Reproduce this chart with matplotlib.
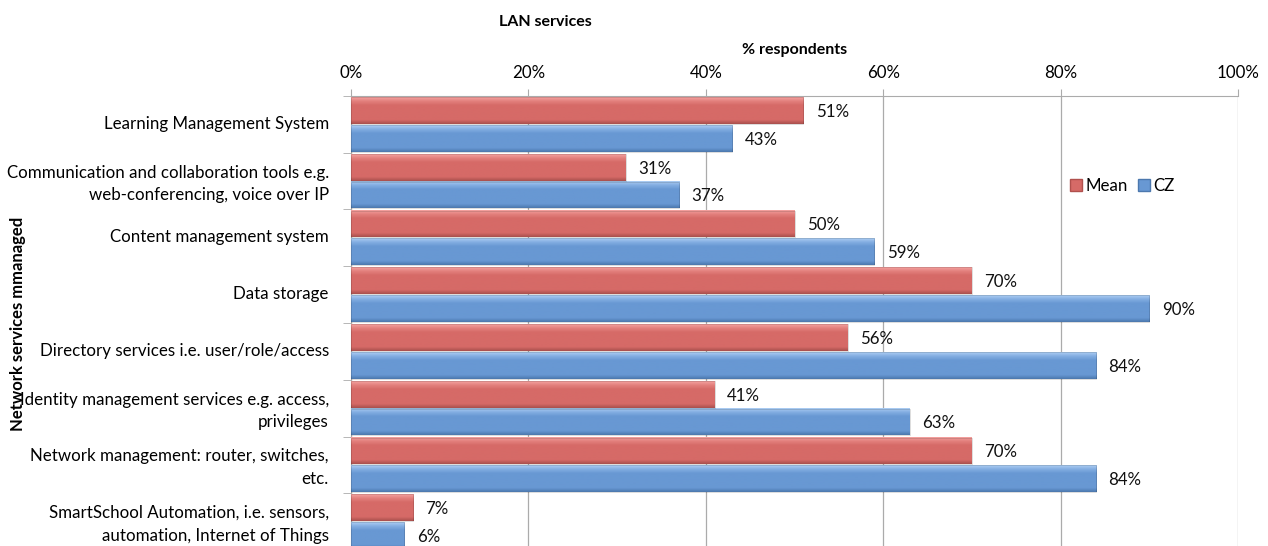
import matplotlib

matplotlib.use("Agg")
import matplotlib.pyplot as plt
import matplotlib.transforms as mtransforms
import numpy as np
from matplotlib.colors import LinearSegmentedColormap
from matplotlib.patches import Patch

categories = [
    "Learning Management System",
    "Communication and collaboration tools e.g.\nweb-conferencing, voice over IP",
    "Content management system",
    "Data storage",
    "Directory services i.e. user/role/access",
    "Identity management services e.g. access,\nprivileges",
    "Network management: router, switches,\netc.",
    "SmartSchool Automation, i.e. sensors,\nautomation, Internet of Things",
]
mean_pct = [51, 31, 50, 70, 56, 41, 70, 7]
cz_pct = [43, 37, 59, 90, 84, 63, 84, 6]
x_ticks = [0, 20, 40, 60, 80, 100]

RED = "#D66A67"
BLUE = "#6898D3"
GRID = "#ababab"
FONT = "Lato"
FS = 12.2

plt.rcParams.update({"font.family": [FONT, "DejaVu Sans"], "font.size": FS})

# bevelled look: light strip on top, flat body, darker bottom edge
red_cmap = LinearSegmentedColormap.from_list(
    "red_bar", [(0, "#F4A19F"), (0.15, "#E27F7C"), (0.3, RED), (0.85, RED), (1, "#A9504D")])
blue_cmap = LinearSegmentedColormap.from_list(
    "blue_bar", [(0, "#ACCDF3"), (0.15, "#82ADE1"), (0.3, BLUE), (0.85, BLUE), (1, "#4C78AE")])
grad = np.linspace(0, 1, 64).reshape(-1, 1)

W, H = 1268, 546
fig = plt.figure(figsize=(W / 100, H / 100), dpi=100)
ax = fig.add_axes([351 / W, 1 - 550 / H, (1238 - 351) / W, 454 / H])

ypos = np.arange(len(categories))
bar_h = 0.47
off = 0.245


def gradient_bar(y, value, cmap):
    ax.imshow(grad, cmap=cmap, aspect="auto", origin="lower", interpolation="bilinear",
              extent=(0, value, y - bar_h / 2, y + bar_h / 2), zorder=3)
    ax.barh(y, value, height=bar_h, color="none", edgecolor="#00000028", lw=0.6, zorder=4)


for i, (m, c) in enumerate(zip(mean_pct, cz_pct)):
    gradient_bar(ypos[i] - off, m, red_cmap)
    gradient_bar(ypos[i] + off, c, blue_cmap)
    ax.annotate(f"{m}%", (m, ypos[i] - off), textcoords="offset points", xytext=(9, -1),
                va="center", ha="left", fontsize=FS, color="#111111")
    ax.annotate(f"{c}%", (c, ypos[i] + off), textcoords="offset points", xytext=(9, -1),
                va="center", ha="left", fontsize=FS, color="#111111")

ax.set_xlim(0, 100)
ax.set_ylim(len(categories) - 0.5, -0.5)

ax.xaxis.tick_top()
ax.xaxis.set_label_position("top")
ax.set_xticks(x_ticks)
ax.set_xticklabels([f"{t}%" for t in x_ticks])
ax.set_xlabel("% respondents", fontweight="bold", fontsize=11.5, labelpad=8)
ax.tick_params(axis="x", length=5, color=GRID, pad=6)

ax.set_yticks(ypos)
ax.set_yticklabels(categories, linespacing=1.5)
ax.set_yticks(np.arange(len(categories) + 1) - 0.5, minor=True)
ax.tick_params(axis="y", which="major", length=0, pad=16)
ax.tick_params(axis="y", which="minor", length=6, color=GRID)
# nudge category labels up a few pixels so the last one stays on the canvas
lift = mtransforms.ScaledTranslation(0, 0.02, fig.dpi_scale_trans)
for lbl in ax.get_yticklabels():
    lbl.set_transform(lbl.get_transform() + lift)

ax.grid(axis="x", color=GRID, lw=0.9)
ax.set_axisbelow(True)
for side in ("right", "bottom"):
    ax.spines[side].set_visible(False)
for side in ("left", "top"):
    ax.spines[side].set_color(GRID)

handles = [Patch(facecolor=RED, edgecolor="#B0504D"), Patch(facecolor=BLUE, edgecolor="#4C78AE")]
ax.legend(handles, ["Mean", "CZ"], loc="center",
          bbox_to_anchor=((1122 - 351) / (1238 - 351), 1 - (186 - 96) / 454),
          ncol=2, frameon=False, handlelength=0.7, handleheight=0.7, handletextpad=0.2,
          columnspacing=0.6, fontsize=FS)

fig.text(545 / W, 1 - 22 / H, "LAN services", ha="center", va="center",
         fontweight="bold", fontsize=11.5)
fig.text(18 / W, 1 - 324 / H, "Network services mmanaged", rotation=90, ha="center",
         va="center", fontweight="bold", fontsize=12)

fig.savefig("out.png", dpi=100, facecolor="white")
